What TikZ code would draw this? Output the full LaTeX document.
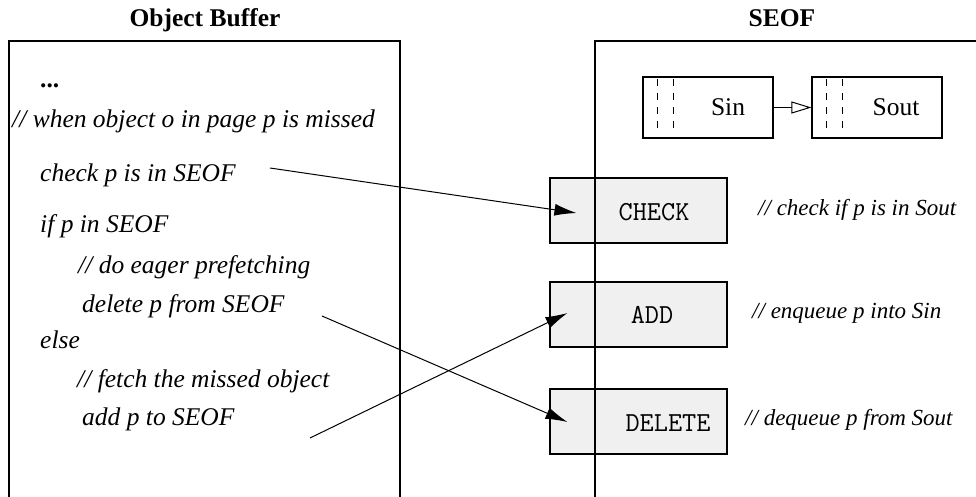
\documentclass[tikz,border=0pt]{standalone}
\usepackage{fontspec}
\setmainfont{Liberation Serif}
\usetikzlibrary{arrows.meta}
\tikzset{
  txt/.style={font=\fontsize{25.5}{30}\selectfont\itshape, inner sep=0pt, anchor=base west},
  cmt/.style={font=\fontsize{23}{28}\selectfont\itshape, inner sep=0pt, anchor=base west},
  ttl/.style={font=\fontsize{25.5}{30}\selectfont\bfseries, inner sep=0pt, anchor=base},
  op/.style={draw, line width=1.1pt, fill=black!6, minimum width=177pt, minimum height=65pt, inner sep=0pt},
  optxt/.style={font=\fontsize{27.5}{30}\selectfont\ttfamily, inner sep=0pt, anchor=base},
  qbox/.style={draw, line width=1.1pt, minimum width=130pt, minimum height=61pt, inner sep=0pt},
  qtxt/.style={font=\fontsize{25.5}{30}\selectfont, inner sep=0pt, anchor=base},
  qdash/.style={line width=1pt, dash pattern=on 7pt off 7pt},
  frame/.style={line width=1.1pt},
  conn/.style={line width=1pt, -{Latex[length=22pt, width=12pt]}},
}
\begin{document}
\begin{tikzpicture}[x=1pt, y=-1pt]
\useasboundingbox (0,0) rectangle (976,497);
% titles
\node[ttl] (tob) at (205,27) {Object Buffer};
\node[ttl] (tse) at (782,27) {SEOF};
% left frame
\draw[frame] (9,497) -- (9,41) -- (400,41) -- (400,497);
% left texts
\node[txt, font=\fontsize{25.5}{30}\selectfont\bfseries] (dots) at (40,88) {...};
\node[txt] (when) at (12,128) {// when object o in page p is missed};
\node[txt] (chk) at (40,182) {check p is in SEOF};
\node[txt] (ifp) at (40,232) {if p in SEOF};
\node[txt] (eag) at (78,273) {// do eager prefetching};
\node[txt] (del) at (82,312) {delete p from SEOF};
\node[txt] (els) at (40,348) {else};
\node[txt] (fet) at (77,387) {// fetch the missed object};
\node[txt] (add) at (82,425) {add p to SEOF};
% queue boxes
\node[qbox] (sin) at (708,107.5) {};
\node[qbox] (sout) at (877,107.5) {};
\node[qtxt] (sint) at (728,116) {Sin};
\node[qtxt] (soutt) at (896,116) {Sout};
\foreach \b in {sin,sout}{
  \draw[qdash] ([xshift=15pt,yshift=-3pt]\b.north west) -- ([xshift=15pt,yshift=8pt]\b.south west);
  \draw[qdash] ([xshift=31pt,yshift=-3pt]\b.north west) -- ([xshift=31pt,yshift=8pt]\b.south west);
}
\draw[line width=1pt, -{Triangle[open, length=20pt, width=12pt]}] (sin.east) -- (sout.west);
% operation boxes
\node[op] (ochk) at (638.5,210.5) {};
\node[op] (oadd) at (638.5,314.5) {};
\node[op] (odel) at (638.5,421.5) {};
\node[optxt] (ochkt) at (654,220) {CHECK};
\node[optxt] (oaddt) at (652,323) {ADD};
\node[optxt] (odelt) at (668,431) {DELETE};
% right frame (drawn over the boxes)
\draw[frame] (595,497) -- (595,41) -- (976,41);
% comments
\node[cmt] (cchk) at (758,215) {// check if p is in Sout};
\node[cmt] (cadd) at (752,318) {// enqueue p into Sin};
\node[cmt] (cdel) at (745,425) {// dequeue p from Sout};
% connectors
\draw[conn] ([xshift=230pt,yshift=14pt]chk.base west) -- ([xshift=27pt,yshift=-2.5pt]ochk.west);
\draw[conn] ([xshift=240pt,yshift=-4pt]del.base west) -- ([xshift=18pt,yshift=-0.5pt]odel.west);
\draw[conn] ([xshift=228pt,yshift=-13pt]add.base west) -- ([xshift=18pt,yshift=1.5pt]oadd.west);
\end{tikzpicture}
\end{document}
